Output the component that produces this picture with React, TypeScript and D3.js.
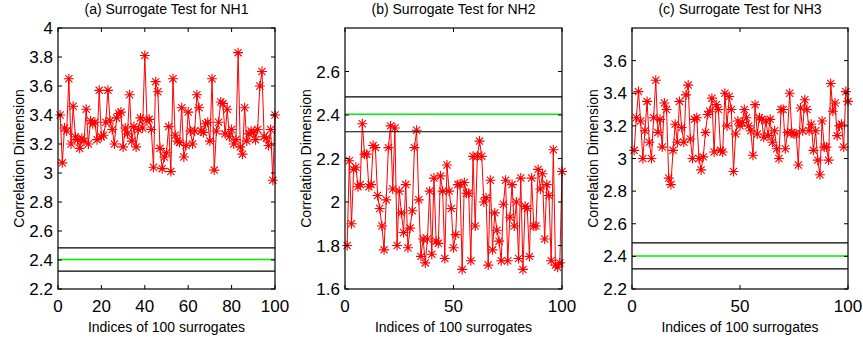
import React from "react";
import * as d3 from "d3";

const nh1Values = [
  3.40, 3.07, 3.31, 3.29, 3.65, 3.20, 3.46, 3.25, 3.23, 3.17,
  3.24, 3.22, 3.44, 3.20, 3.36, 3.34, 3.35, 3.23, 3.57, 3.25,
  3.26, 3.35, 3.57, 3.36, 3.30, 3.20, 3.38, 3.41, 3.42, 3.18,
  3.31, 3.27, 3.54, 3.22, 3.32, 3.18, 3.30, 3.38, 3.31, 3.81,
  3.36, 3.37, 3.30, 3.04, 3.63, 3.56, 3.17, 3.03, 3.11, 3.14,
  3.32, 3.01, 3.65, 3.26, 3.22, 3.21, 3.45, 3.11, 3.19, 3.42,
  3.29, 3.20, 3.29, 3.54, 3.45, 3.29, 3.28, 3.34, 3.35, 3.22,
  3.65, 3.02, 3.29, 3.35, 3.49, 3.48, 3.27, 3.44, 3.25, 3.30,
  3.20, 3.23, 3.83, 3.18, 3.13, 3.45, 3.22, 3.27, 3.29, 3.28,
  3.23, 3.30, 3.60, 3.70, 3.25, 3.24, 3.19, 3.30, 2.95, 3.40,
];

const nh2Values = [
  1.80, 2.19, 1.90, 2.15, 2.16, 2.07, 2.08, 2.36, 2.22, 2.22,
  2.07, 2.08, 2.26, 2.25, 2.03, 1.97, 1.89, 1.78, 2.01, 2.25,
  2.35, 2.06, 2.34, 1.80, 2.05, 1.95, 1.86, 2.08, 1.79, 1.88,
  1.96, 2.25, 2.33, 2.01, 1.75, 1.83, 1.72, 1.83, 2.05, 1.76,
  2.11, 1.82, 1.81, 2.12, 2.05, 1.74, 2.17, 2.05, 1.97, 1.79,
  1.85, 2.08, 2.08, 1.69, 2.09, 2.04, 2.04, 1.73, 2.21, 1.89,
  2.21, 2.28, 2.21, 2.00, 2.02, 1.71, 2.10, 1.78, 1.95, 1.87,
  1.82, 1.73, 1.99, 2.10, 1.73, 1.93, 2.08, 1.89, 2.00, 1.74,
  2.11, 1.69, 1.98, 1.97, 1.75, 2.11, 1.89, 1.89, 2.15, 2.06,
  2.13, 1.83, 2.08, 2.03, 1.73, 2.24, 1.71, 1.70, 1.72, 2.14,
];

const nh3Values = [
  3.05, 3.25, 3.41, 3.23, 3.00, 3.17, 3.35, 3.10, 3.00, 3.25,
  3.48, 3.16, 3.24, 3.07, 3.34, 3.30, 2.88, 2.84, 3.05, 3.21,
  3.10, 3.35, 3.19, 3.10, 3.39, 3.45, 3.12, 3.00, 3.24, 3.25,
  3.00, 2.93, 3.01, 3.16, 3.27, 3.29, 3.37, 3.04, 3.33, 3.30,
  3.05, 3.04, 3.40, 3.20, 3.38, 3.30, 2.92, 3.15, 3.23, 3.20,
  3.22, 3.30, 3.25, 3.20, 3.17, 3.02, 3.33, 3.15, 3.25, 3.24,
  3.13, 3.23, 3.14, 3.24, 3.10, 3.17, 3.06, 3.00, 3.30, 3.30,
  3.06, 3.16, 3.40, 3.16, 3.15, 3.15, 2.96, 3.31, 3.17, 3.36,
  3.30, 3.17, 3.21, 3.05, 3.17, 2.99, 2.90, 3.23, 3.07, 3.07,
  2.99, 3.46, 3.29, 3.34, 3.14, 3.20, 3.21, 3.07, 3.41, 3.35,
];

const titles = ["(a) Surrogate Test for NH1", "(b) Surrogate Test for NH2", "(c) Surrogate Test for NH3"];
const xLabel = "Indices of 100 surrogates";
const yLabel = "Correlation Dimension";

const refUpper = 2.483;
const refMid = 2.403;
const refLower = 2.323;

const yDomains: [number, number][] = [[2.2, 4], [1.6, 2.8], [2.2, 3.8]];
const yTicksA = [2.2, 2.4, 2.6, 2.8, 3, 3.2, 3.4, 3.6, 3.8, 4];
const yTicksB = [1.6, 1.8, 2, 2.2, 2.4, 2.6];
const yTicksC = [2.2, 2.4, 2.6, 2.8, 3, 3.2, 3.4, 3.6];
const xTicksA = [0, 20, 40, 60, 80, 100];
const xTicksBC = [0, 50, 100];

const FONT = "'Liberation Sans', Arial, Helvetica, sans-serif";

type PanelProps = {
  left: number;
  right: number;
  top: number;
  bottom: number;
  values: number[];
  domain: [number, number];
  yTicks: number[];
  xTicks: number[];
  title: string;
  yLabelX: number;
};

function Panel({ left, right, top, bottom, values, domain, yTicks, xTicks, title, yLabelX }: PanelProps) {
  const x = d3.scaleLinear().domain([0, 100]).range([left, right]);
  const y = d3.scaleLinear().domain(domain).range([bottom, top]);
  const line = d3
    .line<number>()
    .x((_, i) => x(i + 1))
    .y((v) => y(v));
  const r = 5;
  const dd = r * 0.72;
  const star = `M${-r},0L${r},0M0,${-r}L0,${r}M${-dd},${-dd}L${dd},${dd}M${-dd},${dd}L${dd},${-dd}`;
  const tl = 4;
  const fmt = (v: number) => String(+v.toFixed(1));
  return (
    <g>
      <text x={(left + right) / 2} y={14} textAnchor="middle" fontSize={14} fontFamily={FONT} fill="#000">
        {title}
      </text>
      <g>
        <path d={line(values) || ""} fill="none" stroke="#ff0000" strokeWidth={1} />
        {values.map((v, i) => (
          <path key={i} d={star} transform={`translate(${x(i + 1)},${y(v)})`} stroke="#ff0000" strokeWidth={1.1} fill="none" />
        ))}
      </g>
      {[refUpper, refLower].map((v) => (
        <line key={v} x1={left} x2={right} y1={y(v)} y2={y(v)} stroke="#000" strokeWidth={1.2} />
      ))}
      <line x1={left} x2={right} y1={y(refMid)} y2={y(refMid)} stroke="#00ee00" strokeWidth={1.5} />
      <rect x={left} y={top} width={right - left} height={bottom - top} fill="none" stroke="#000" strokeWidth={1.2} />
      {yTicks.map((t) => (
        <g key={"y" + t}>
          <line x1={left} x2={left + tl} y1={y(t)} y2={y(t)} stroke="#000" strokeWidth={1} />
          <line x1={right} x2={right - tl} y1={y(t)} y2={y(t)} stroke="#000" strokeWidth={1} />
          <text x={left - 5} y={y(t) + 6} textAnchor="end" fontSize={17} fontFamily={FONT} fill="#000">
            {fmt(t)}
          </text>
        </g>
      ))}
      {xTicks.map((t) => (
        <g key={"x" + t}>
          <line x1={x(t)} x2={x(t)} y1={bottom} y2={bottom - tl} stroke="#000" strokeWidth={1} />
          <line x1={x(t)} x2={x(t)} y1={top} y2={top + tl} stroke="#000" strokeWidth={1} />
          <text x={x(t)} y={bottom + 23} textAnchor="middle" fontSize={17} fontFamily={FONT} fill="#000">
            {t}
          </text>
        </g>
      ))}
      <text x={(left + right) / 2} y={332} textAnchor="middle" fontSize={14} fontFamily={FONT} fill="#000">
        {xLabel}
      </text>
      <text
        transform={`translate(${yLabelX},${(top + bottom) / 2}) rotate(-90)`}
        textAnchor="middle"
        fontSize={14}
        fontFamily={FONT}
        fill="#000"
      >
        {yLabel}
      </text>
    </g>
  );
}

export default function App() {
  return (
    <svg width={863} height={344} style={{ position: "absolute", left: 0, top: 0, background: "#fff" }}>
      <rect width={863} height={344} fill="#fff" />
      <Panel left={58} right={275} top={28} bottom={289} values={nh1Values} domain={yDomains[0]} yTicks={yTicksA} xTicks={xTicksA} title={titles[0]} yLabelX={23.5} />
      <Panel left={345} right={562} top={28} bottom={289} values={nh2Values} domain={yDomains[1]} yTicks={yTicksB} xTicks={xTicksBC} title={titles[1]} yLabelX={311} />
      <Panel left={632} right={848} top={28} bottom={289} values={nh3Values} domain={yDomains[2]} yTicks={yTicksC} xTicks={xTicksBC} title={titles[2]} yLabelX={597.5} />
    </svg>
  );
}
